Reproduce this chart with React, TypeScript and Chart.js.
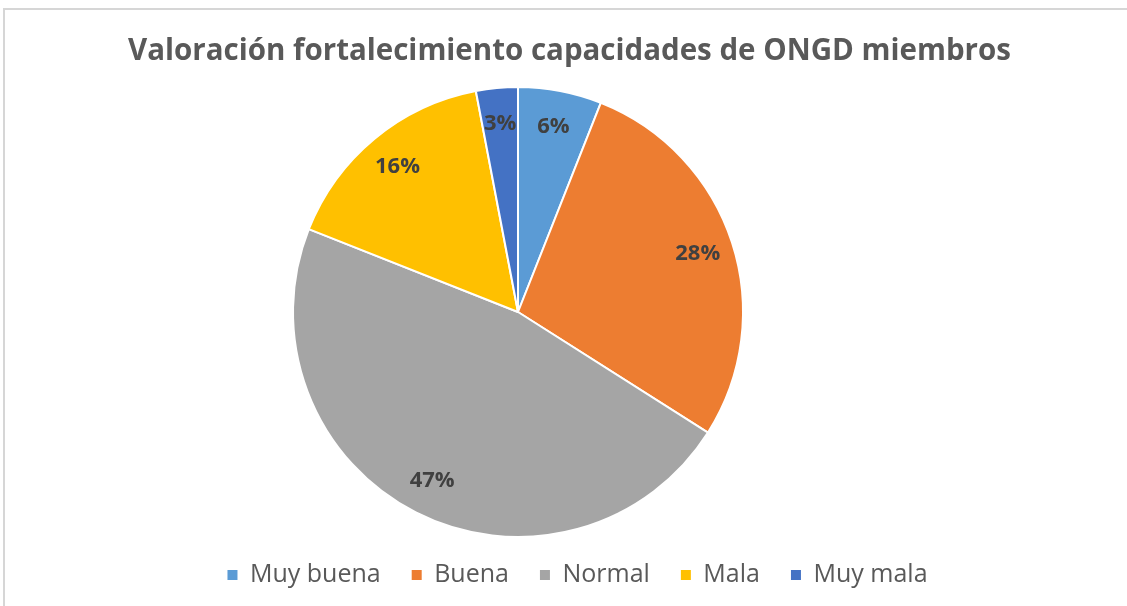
import React, { useEffect, useRef } from "react";
import { Chart, registerables } from "chart.js";

Chart.register(...registerables);

const chartTitle = "Valoración fortalecimiento capacidades de ONGD miembros";
const categories = ["Muy buena", "Buena", "Normal", "Mala", "Muy mala"];
const percentages = [6, 28, 47, 16, 3];
const sliceColors = ["#5B9BD5", "#ED7D31", "#A5A5A5", "#FFC000", "#4472C4"];

const FONT = "'Open Sans', 'DejaVu Sans', sans-serif";
const TEXT_COLOR = "#595959";
const LABEL_COLOR = "#404040";

// Moves the pie horizontally inside the plot area and nudges the legend row.
const boxShift = {
  id: "boxShift",
  afterLayout(chart: any, _args: any, opts: any) {
    if (opts && typeof opts.legendDx === "number" && chart.legend) {
      chart.legend.left += opts.legendDx;
      chart.legend.right += opts.legendDx;
    }
  },
  beforeDatasetsUpdate(chart: any, _args: any, opts: any) {
    const a = chart.chartArea;
    if (opts && typeof opts.centerX === "number") {
      a.right = a.left + 2 * (opts.centerX - a.left);
      a.width = a.right - a.left;
    }
  },
};

const sliceLabels = {
  id: "sliceLabels",
  afterDatasetsDraw(chart: any) {
    const ctx = chart.ctx;
    const meta = chart.getDatasetMeta(0);
    const data = chart.data.datasets[0].data as number[];
    ctx.save();
    ctx.font = `bold 22px ${FONT}`;
    ctx.fillStyle = LABEL_COLOR;
    ctx.textAlign = "center";
    ctx.textBaseline = "middle";
    meta.data.forEach((arc: any, i: number) => {
      const p = arc.getProps(["x", "y", "startAngle", "endAngle", "outerRadius"], true);
      const mid = (p.startAngle + p.endAngle) / 2;
      const r = p.outerRadius * 0.84;
      ctx.fillText(`${data[i]}%`, p.x + Math.cos(mid) * r, p.y + Math.sin(mid) * r);
    });
    ctx.restore();
  },
};

export default function App() {
  const canvasRef = useRef<HTMLCanvasElement | null>(null);

  useEffect(() => {
    if (!canvasRef.current) return;
    const chart = new Chart(canvasRef.current, {
      type: "pie",
      data: {
        labels: categories,
        datasets: [
          {
            data: percentages,
            backgroundColor: sliceColors,
            borderColor: "#ffffff",
            borderWidth: 2,
            clip: false as any,
          },
        ],
      },
      options: {
        animation: false,
        responsive: true,
        maintainAspectRatio: false,
        events: [],
        radius: 225,
        layout: { padding: { left: 12, right: 0, top: 0, bottom: 8.5 } },
        plugins: {
          title: {
            display: true,
            text: chartTitle,
            color: TEXT_COLOR,
            font: { family: FONT, size: 29.5, weight: "bold" },
            padding: { top: 34.3, bottom: 22.8 },
          },
          legend: {
            display: true,
            position: "bottom",
            labels: {
              boxWidth: 10,
              boxHeight: 10,
              padding: 31,
              color: TEXT_COLOR,
              font: { family: FONT, size: 25 },
              generateLabels: () =>
                categories.map((c, i) => ({
                  text: c,
                  fillStyle: sliceColors[i],
                  strokeStyle: sliceColors[i],
                  lineWidth: 0,
                  fontColor: TEXT_COLOR,
                  hidden: false,
                  index: i,
                })),
            },
          },
          tooltip: { enabled: false },
          boxShift: { centerX: 518, legendDx: 8 },
        } as any,
      } as any,
      plugins: [boxShift, sliceLabels],
    });
    return () => chart.destroy();
  }, []);

  return (
    <div style={{ position: "fixed", inset: 0, overflow: "hidden", background: "#ffffff" }}>
      <div
        style={{
          position: "absolute",
          left: 3,
          top: 8,
          width: 2000,
          height: 2000,
          borderTop: "2px solid #d6d6d6",
          borderLeft: "2px solid #d6d6d6",
        }}
      />
      <div style={{ position: "absolute", left: 0, top: 0, width: 1127, height: 606 }}>
        <canvas ref={canvasRef} />
      </div>
    </div>
  );
}
